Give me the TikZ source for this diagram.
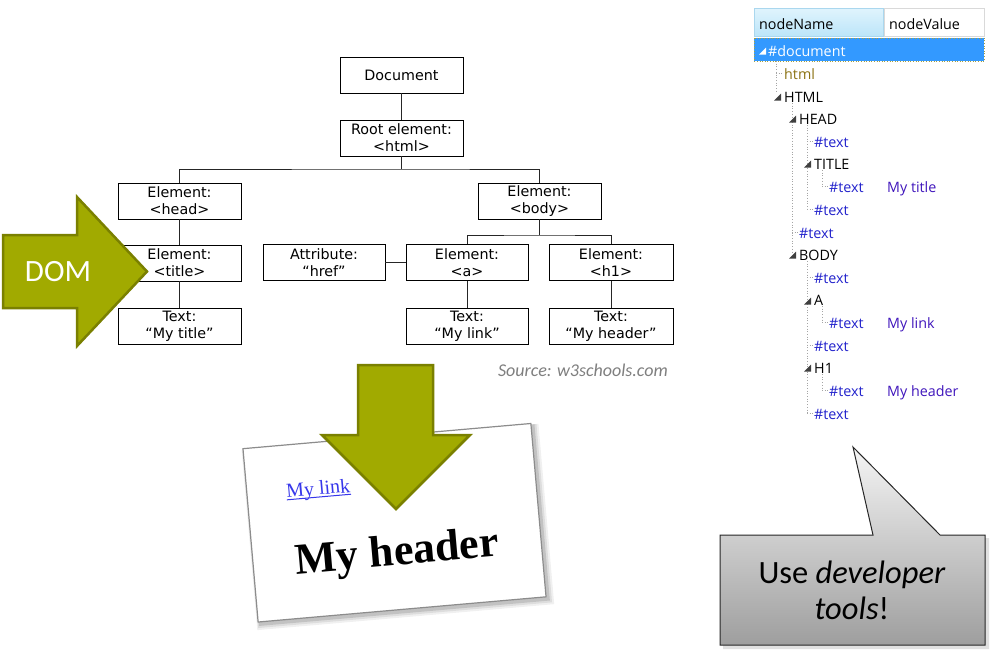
\documentclass[tikz,border=0pt]{standalone}
\usepackage{fontspec}
\setmainfont{Carlito}
\newfontfamily\verdf{DejaVu Sans}
\newfontfamily\segoef{Open Sans}
\newfontfamily\timesf{Liberation Serif}
\definecolor{olivefill}{RGB}{161,170,0}
\definecolor{olivedraw}{RGB}{122,128,0}
\definecolor{selblue}{RGB}{51,153,255}
\definecolor{hdrtop}{RGB}{224,244,253}
\definecolor{hdrbot}{RGB}{188,229,249}
\definecolor{hdrline}{RGB}{170,215,238}
\definecolor{txtblue}{RGB}{34,34,204}
\definecolor{valpurple}{RGB}{64,22,188}
\definecolor{doctype}{RGB}{140,115,20}
\definecolor{guidegray}{RGB}{165,165,165}
\definecolor{srcgray}{RGB}{127,127,127}
\definecolor{linkblue}{RGB}{55,55,235}
\tikzset{
  dombox/.style={draw=black, line width=0.9pt, fill=white, minimum width=123pt, minimum height=36pt,
    inner sep=0pt, align=center, font=\verdf\fontsize{14.3}{17}\selectfont},
  treeline/.style={line width=0.9pt, black!85},
  bigarrow/.style={fill=olivefill, draw=olivedraw, line width=2.5pt, line join=miter},
  devtxt/.style={anchor=base west, inner sep=0pt, font=\segoef\fontsize{14.3}{16}\selectfont},
  devline/.style={guidegray, line width=0.7pt, dotted},
  devtri/.style={fill=black!75},
}
\begin{document}
\begin{tikzpicture}[x=1pt,y=-1pt]
\useasboundingbox (0,0) rectangle (993,654);
\fill[white] (0,0) rectangle (993,654);

% ---------------- DOM tree ----------------
\node[dombox] (doc) at (401.5,75) {Document};
\node[dombox] (root) at (401.5,138) {Root element:\\<html>};
\node[dombox] (head) at (179.5,201) {Element:\\<head>};
\node[dombox] (body) at (539.5,201) {Element:\\<body>};
\node[dombox] (title) at (179.5,263) {Element:\\<title>};
\node[dombox] (mytitle) at (179.5,326) {Text:\\“My title”};
\node[dombox, minimum width=122pt] (href) at (324,262.5) {Attribute:\\“href”};
\node[dombox, minimum width=122pt] (a) at (467,262.5) {Element:\\<a>};
\node[dombox, minimum width=124pt] (h1) at (611,262.5) {Element:\\<h1>};
\node[dombox, minimum width=122pt] (mylink) at (467,326) {Text:\\“My link”};
\node[dombox, minimum width=124pt] (myheader) at (611,326) {Text:\\“My header”};

\coordinate (bus1) at (401.5,169);
\coordinate (bus2) at (539.5,235);
\draw[treeline] (doc) -- (root);
\draw[treeline] (root.south) -- (bus1);
\draw[treeline] (head.north) |- (bus1) -| (body.north);
\draw[treeline] (head) -- (title);
\draw[treeline] (title) -- (mytitle);
\draw[treeline] (body.south) -- (bus2);
\draw[treeline] (a.north) |- (bus2) -| (h1.north);
\draw[treeline] (href) -- (a);
\draw[treeline] (a) -- (mylink);
\draw[treeline] (h1) -- (myheader);

\node[anchor=east, inner sep=0pt, text=srcgray, font=\itshape\fontsize{18}{20}\selectfont] (src) at (668,370) {Source: w3schools.com};

% DOM arrow
\draw[bigarrow] (3,235) -- (77,235) -- (77,197) -- (147,271.5) -- (77,346) -- (77,308) -- (3,308) -- cycle;
\node[text=white, inner sep=0pt, font=\fontsize{31}{31}\selectfont] (domlbl) at (58,272) {DOM};

% ---------------- rendered page card ----------------
\begin{scope}[shift={(394.5,522.75)}, rotate=5]
  \fill[black, opacity=0.06] (-146,-86) rectangle (152,95);
  \fill[black, opacity=0.08] (-145,-86) rectangle (150,93);
  \fill[black, opacity=0.12] (-144,-86) rectangle (148,91);
  \draw[draw=black!45, fill=white, line width=1.2pt] (-144.5,-87) rectangle (144.5,87);
  \node[transform shape, text=linkblue, inner sep=0pt, font=\timesf\fontsize{20}{22}\selectfont] (link) at (-73,-39) {My link};
  \draw[linkblue, line width=1pt] ([yshift=-2pt]link.base west) -- ([yshift=-2pt]link.base east);
  \node[transform shape, inner sep=0pt, font=\timesf\bfseries\fontsize{44}{46}\selectfont] (hdr) at (0,32) {My header};
\end{scope}

% down arrow
\draw[bigarrow] (358,365) -- (433,365) -- (433,435) -- (470,435) -- (396,509) -- (322,435) -- (358,435) -- cycle;

% ---------------- developer tools panel ----------------
\shadedraw[top color=hdrtop, bottom color=hdrbot, draw=hdrline, line width=0.8pt] (754,8) rectangle (883,36);
\draw[draw=black!15, fill=white, line width=0.8pt] (884,8) rectangle (984,36);
\node[devtxt] (hname) at (759,29) {nodeName};
\node[devtxt] (hval) at (889,29) {nodeValue};

\fill[selblue] (754,38) rectangle (984,61);
\draw[dotted, draw=black!40!yellow, line width=0.6pt] (754,38) rectangle (984,61);

% guide lines
\draw[devline] (776,61) -- (776,92);
\draw[devline] (776,73) -- (783,73);
\draw[devline] (792,103) -- (792,254);
\draw[devline] (792,232) -- (798,232);
\draw[devline] (807,125) -- (807,209);
\draw[devline] (807,141) -- (813,141);
\draw[devline] (807,209) -- (813,209);
\draw[devline] (822,170) -- (822,186);
\draw[devline] (822,186) -- (828,186);
\draw[devline] (807,261) -- (807,413);
\draw[devline] (807,277) -- (813,277);
\draw[devline] (807,345) -- (813,345);
\draw[devline] (807,413) -- (813,413);
\draw[devline] (822,306) -- (822,322);
\draw[devline] (822,322) -- (828,322);
\draw[devline] (822,374) -- (822,390);
\draw[devline] (822,390) -- (828,390);

% expander triangles
\fill[white] (759,54.5) -- (766,54.5) -- (766,47.5) -- cycle;
\fill[devtri] (774,100.5) -- (781,100.5) -- (781,93.5) -- cycle;
\fill[devtri] (789,122.5) -- (796,122.5) -- (796,115.5) -- cycle;
\fill[devtri] (804,167.5) -- (811,167.5) -- (811,160.5) -- cycle;
\fill[devtri] (789,258.5) -- (796,258.5) -- (796,251.5) -- cycle;
\fill[devtri] (804,304.5) -- (811,304.5) -- (811,297.5) -- cycle;
\fill[devtri] (804,371.5) -- (811,371.5) -- (811,364.5) -- cycle;

% rows
\node[devtxt, text=white] (r1) at (768,56) {\#document};
\node[devtxt, text=doctype] (r2) at (784,79) {html};
\node[devtxt] (r3) at (784,102) {HTML};
\node[devtxt] (r4) at (799,124) {HEAD};
\node[devtxt, text=txtblue] (r5) at (814,147) {\#text};
\node[devtxt] (r6) at (814,169) {TITLE};
\node[devtxt, text=txtblue] (r7) at (829,192) {\#text};
\node[devtxt, text=valpurple] (v7) at (887,192) {My title};
\node[devtxt, text=txtblue] (r8) at (814,215) {\#text};
\node[devtxt, text=txtblue] (r9) at (799,238) {\#text};
\node[devtxt] (r10) at (799,260) {BODY};
\node[devtxt, text=txtblue] (r11) at (814,283) {\#text};
\node[devtxt] (r12) at (814,305) {A};
\node[devtxt, text=txtblue] (r13) at (829,328) {\#text};
\node[devtxt, text=valpurple] (v13) at (887,328) {My link};
\node[devtxt, text=txtblue] (r14) at (814,351) {\#text};
\node[devtxt] (r15) at (814,373) {H1};
\node[devtxt, text=txtblue] (r16) at (829,396) {\#text};
\node[devtxt, text=valpurple] (v16) at (887,396) {My header};
\node[devtxt, text=txtblue] (r17) at (814,419) {\#text};

% ---------------- callout ----------------
\fill[black, opacity=0.12] (723,538) -- (876,538) -- (856,450) -- (943,538) -- (989,538) -- (989,649) -- (723,649) -- cycle;
\shadedraw[top color=black!4, bottom color=black!38, draw=black!85, line width=1pt]
  (720,535) -- (873,535) -- (853,447) -- (940,535) -- (985,535) -- (985,645) -- (720,645) -- cycle;
\node[align=center, inner sep=0pt, font=\fontsize{32.5}{36}\selectfont] (callout) at (852,590) {Use \textit{developer}\\\textit{tools}!};
\end{tikzpicture}
\end{document}
